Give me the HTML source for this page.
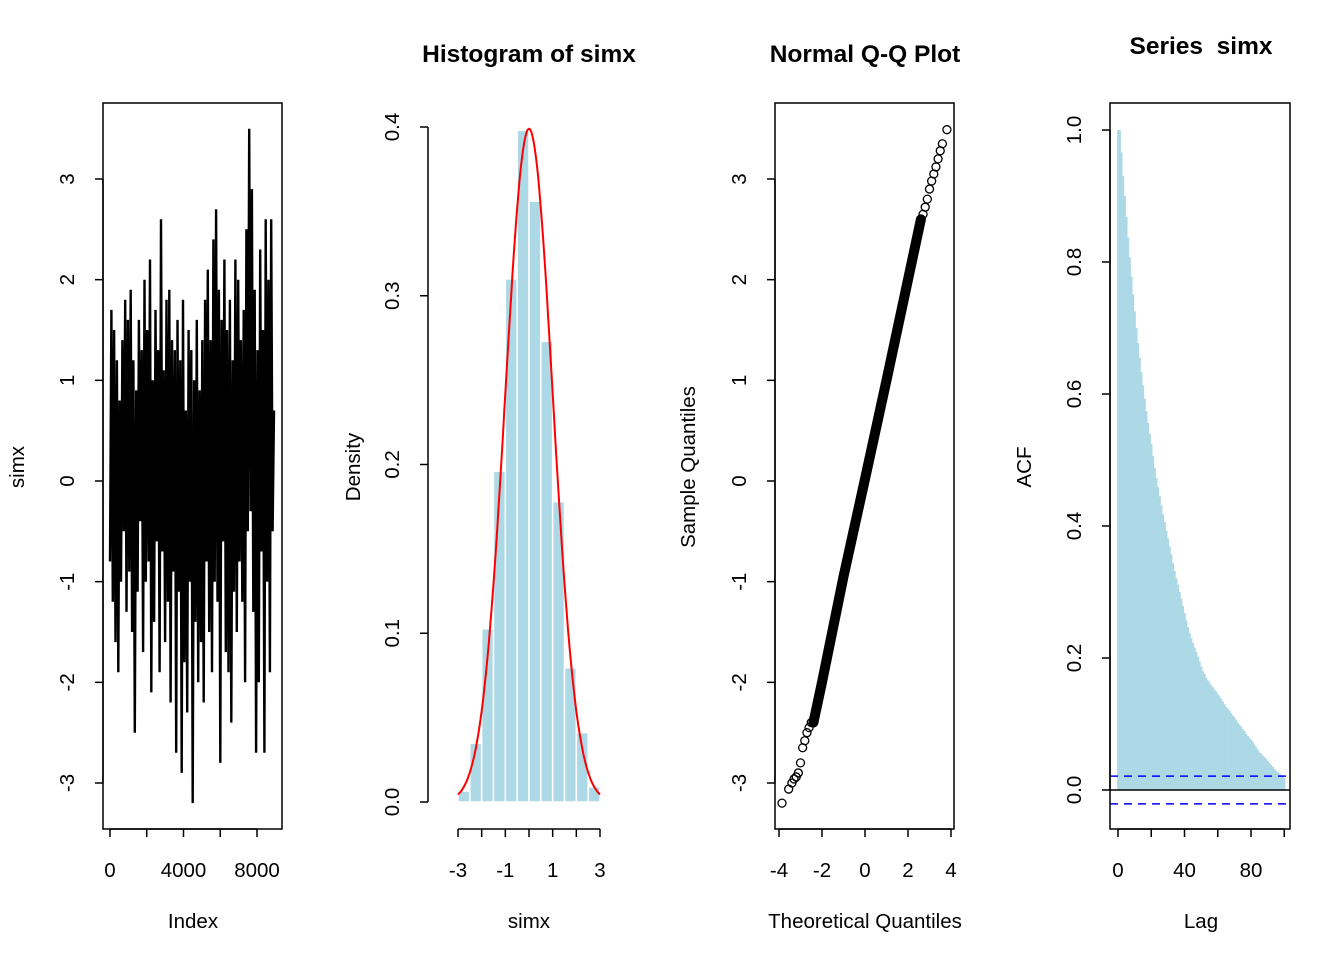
<!DOCTYPE html>
<html><head><meta charset="utf-8"><style>
html,body{margin:0;padding:0;background:#fff}
svg{display:block;font-family:"Liberation Sans",Arial,sans-serif}
</style></head><body>
<svg id="c" width="1344" height="960" viewBox="0 0 1344 960"></svg>
<script>
// ---- data ----
const tsValues=[-0.8,1.7,-1.2,1.5,-1.6,1.2,-1.9,0.8,-1.0,1.4,-0.5,1.8,-1.3,1.6,-0.9,1.9,-1.5,1.2,-2.5,0.9,-1.1,1.6,-0.4,1.3,-1.7,2.0,-1.0,1.5,-0.8,2.2,-2.1,1.0,-1.4,1.7,-0.6,1.3,-1.9,2.6,-0.7,1.1,-1.6,1.8,-1.2,1.9,-2.2,1.4,-0.9,1.3,-2.7,1.6,-1.1,1.2,-2.9,1.8,-1.8,0.7,-2.3,1.5,-1.0,1.3,-3.2,1.0,-1.4,1.6,-2.0,0.9,-1.6,1.4,-2.2,1.8,-0.8,2.1,-1.5,1.4,-1.9,2.4,-1.0,2.7,-1.2,1.9,-2.8,1.6,-0.6,2.2,-1.7,1.5,-1.9,1.8,-2.4,1.2,-1.1,2.2,-1.5,2.0,-0.8,1.4,-1.2,1.7,-2.0,2.5,-0.5,3.5,-0.3,2.9,-1.3,1.9,-2.7,1.3,-2.0,2.3,-0.7,1.5,-2.7,2.6,-1.0,2.0,-1.9,2.6,-0.5,0.7];
const tsStep=75;
const histBreaks=[-3,-2.5,-2,-1.5,-1,-0.5,0,0.5,1,1.5,2,2.5,3,3.5];
const histDensity=[0.0065,0.0348,0.1026,0.196,0.31,0.398,0.356,0.273,0.178,0.0795,0.041,0.009,0.0005];
const qqBodyTheo=[-2.4,-2,-1,0,1,2,2.6];
const qqBodySample=[-2.4,-2.0,-0.95,0.02,1.0,2.0,2.6];
const qqTailTheo=[-3.86,-3.55,-3.4,-3.3,-3.2,-3.1,-3.0,-2.9,-2.8,-2.7,-2.6,-2.5,2.7,2.8,2.9,3.0,3.1,3.2,3.3,3.4,3.5,3.6,3.81];
const qqTailSample=[-3.2,-3.06,-3.0,-2.96,-2.94,-2.9,-2.8,-2.65,-2.58,-2.5,-2.45,-2.4,2.65,2.72,2.8,2.9,2.98,3.05,3.12,3.2,3.28,3.35,3.49];
const acfValues=[1.0,1.0,0.966,0.93,0.90,0.868,0.837,0.807,0.778,0.751,0.725,0.70,0.677,0.655,0.633,0.613,0.593,0.574,0.556,0.54,0.524,0.506,0.488,0.473,0.459,0.445,0.431,0.418,0.406,0.393,0.381,0.369,0.357,0.344,0.332,0.321,0.311,0.30,0.29,0.279,0.268,0.257,0.247,0.238,0.23,0.223,0.216,0.209,0.202,0.195,0.187,0.18,0.176,0.170,0.166,0.163,0.159,0.156,0.152,0.149,0.145,0.142,0.138,0.134,0.130,0.126,0.123,0.120,0.116,0.113,0.110,0.106,0.102,0.099,0.096,0.092,0.089,0.085,0.082,0.079,0.076,0.073,0.069,0.065,0.061,0.057,0.055,0.052,0.050,0.047,0.044,0.041,0.038,0.035,0.032,0.029,0.027,0.025,0.023,0.020,0.018];
const acfCI=0.021;

const S=document.getElementById('c');const NS='http://www.w3.org/2000/svg';
const LS=20.5, TS=24.5;
function el(tag,attrs,parent){const e=document.createElementNS(NS,tag);for(const k in attrs)e.setAttribute(k,attrs[k]);(parent||S).appendChild(e);return e;}
function txt(x,y,s,size,opts){opts=opts||{};const t=el('text',{x:x,y:y,'font-size':size,'text-anchor':'middle','font-weight':opts.bold?'bold':'normal',fill:'#000'});if(opts.rot)t.setAttribute('transform','rotate(-90 '+x+' '+y+')');t.textContent=s;return t;}
function lin(d0,d1,r0,r1){return v=>r0+(v-d0)*(r1-r0)/(d1-d0);}
function yAxis(x,ticks,ys,labels,name){const g=el('g',{});
 el('line',{x1:x,x2:x,y1:ys(ticks[0]),y2:ys(ticks[ticks.length-1]),stroke:'#000','stroke-width':1.5},g);
 ticks.forEach((t,i)=>{el('line',{x1:x,x2:x-8,y1:ys(t),y2:ys(t),stroke:'#000','stroke-width':1.5},g);g.appendChild(txt(x-29,ys(t),labels[i],LS,{rot:true}));});}
function xAxis(y,ticks,xs,labels,name){const g=el('g',{});
 el('line',{x1:xs(ticks[0]),x2:xs(ticks[ticks.length-1]),y1:y,y2:y,stroke:'#000','stroke-width':1.5},g);
 ticks.forEach((t,i)=>{el('line',{x1:xs(t),x2:xs(t),y1:y,y2:y+8,stroke:'#000','stroke-width':1.5},g);if(labels[i]!==''){g.appendChild(txt(xs(t),y+48,labels[i],LS));}});}
function box(x0,y0,x1,y1,name){const r=el('rect',{x:x0,y:y0,width:x1-x0,height:y1-y0,fill:'none',stroke:'#000','stroke-width':1.5});}
function rotLabel(t){} 

// ---- panel 1: time series ----
{const xs=lin(0,8000,110,257), ys=lin(0,3,481,179);
 let d=tsValues.map((v,i)=>(i?'L':'M')+xs(i*tsStep).toFixed(1)+' '+ys(v).toFixed(1)).join(' ');
 const p=el('path',{d:d,fill:'none',stroke:'#000','stroke-width':2.4});
 
 box(103,103,282,829,'plot-box-series');
 yAxis(103,[-3,-2,-1,0,1,2,3],ys,['-3','-2','-1','0','1','2','3'],'y-axis-series');
 xAxis(829,[0,2000,4000,6000,8000],xs,['0','','4000','','8000'],'x-axis-series');
 let t=txt(193,928,'Index',LS);
 t=txt(24,467,'simx',LS,{rot:true});}

// ---- panel 2: histogram ----
{const xs=lin(-3,3,458,600), ys=lin(0,0.4,802,127);
 histDensity.forEach((v,i)=>{const x0=xs(histBreaks[i]),x1=xs(histBreaks[i+1]);
  const r=el('rect',{x:x0,y:ys(v),width:x1-x0,height:ys(0)-ys(v),fill:'#add8e6',stroke:'#fff','stroke-width':1.5});
  });
 let d='';for(let k=0;k<=120;k++){const x=-3+k*0.05;const y=Math.exp(-x*x/2)/Math.sqrt(2*Math.PI);d+=(k?'L':'M')+xs(x).toFixed(1)+' '+ys(y).toFixed(1)+' ';}
 const p=el('path',{d:d,fill:'none',stroke:'#ff0000','stroke-width':2});
 
 yAxis(428,[0,0.1,0.2,0.3,0.4],ys,['0.0','0.1','0.2','0.3','0.4'],'y-axis-density');
 xAxis(829,[-3,-2,-1,0,1,2,3],xs,['-3','','-1','','1','','3'],'x-axis-simx');
 let t=txt(529,62,'Histogram of simx',TS,{bold:true});
 t=txt(529,928,'simx',LS);
 t=txt(360,467,'Density',LS,{rot:true});}

// ---- panel 3: QQ ----
{const xs=lin(0,4,865,951), ys=lin(0,3,481,179);
 const d=qqBodyTheo.map((v,i)=>(i?'L':'M')+xs(v).toFixed(1)+' '+ys(qqBodySample[i]).toFixed(1)).join(' ');
 const p=el('path',{d:d,fill:'none',stroke:'#000','stroke-width':10,'stroke-linecap':'round'});
 
 qqTailTheo.forEach((v,i)=>{const c=el('circle',{cx:xs(v),cy:ys(qqTailSample[i]),r:4,fill:'none',stroke:'#000','stroke-width':1.3});
  });
 box(775,103,954,829,'plot-box-qq');
 yAxis(775,[-3,-2,-1,0,1,2,3],ys,['-3','-2','-1','0','1','2','3'],'y-axis-sample-quantiles');
 xAxis(829,[-4,-2,0,2,4],xs,['-4','-2','0','2','4'],'x-axis-theoretical');
 let t=txt(865,62,'Normal Q-Q Plot',TS,{bold:true});
 t=txt(865,928,'Theoretical Quantiles',LS);
 t=txt(695,467,'Sample Quantiles',LS,{rot:true});}

// ---- panel 4: ACF ----
{const xs=lin(0,80,1118,1251), ys=lin(0,1,790,130);
 const w=xs(1)-xs(0);
 acfValues.forEach((v,i)=>{const r=el('rect',{x:xs(i)-w/2,y:ys(v),width:w+0.4,height:ys(0)-ys(v),fill:'#add8e6'});
  });
 let l=el('line',{x1:1110,x2:1290,y1:ys(0),y2:ys(0),stroke:'#000','stroke-width':1.5});
 [acfCI,-acfCI].forEach(c=>{const q=el('line',{x1:1110,x2:1290,y1:ys(c),y2:ys(c),stroke:'#0000ff','stroke-width':1.5,'stroke-dasharray':'8 6'});
  });
 box(1110,103,1290,829,'plot-box-acf');
 yAxis(1110,[0,0.2,0.4,0.6,0.8,1.0],ys,['0.0','0.2','0.4','0.6','0.8','1.0'],'y-axis-acf');
 xAxis(829,[0,20,40,60,80,100],xs,['0','','40','','80',''],'x-axis-lag');
 let t=txt(1201,54,'Series  simx',TS,{bold:true});t.style.whiteSpace='pre';
 t=txt(1201,928,'Lag',LS);
 t=txt(1031,467,'ACF',LS,{rot:true});}
</script>
</body></html>
